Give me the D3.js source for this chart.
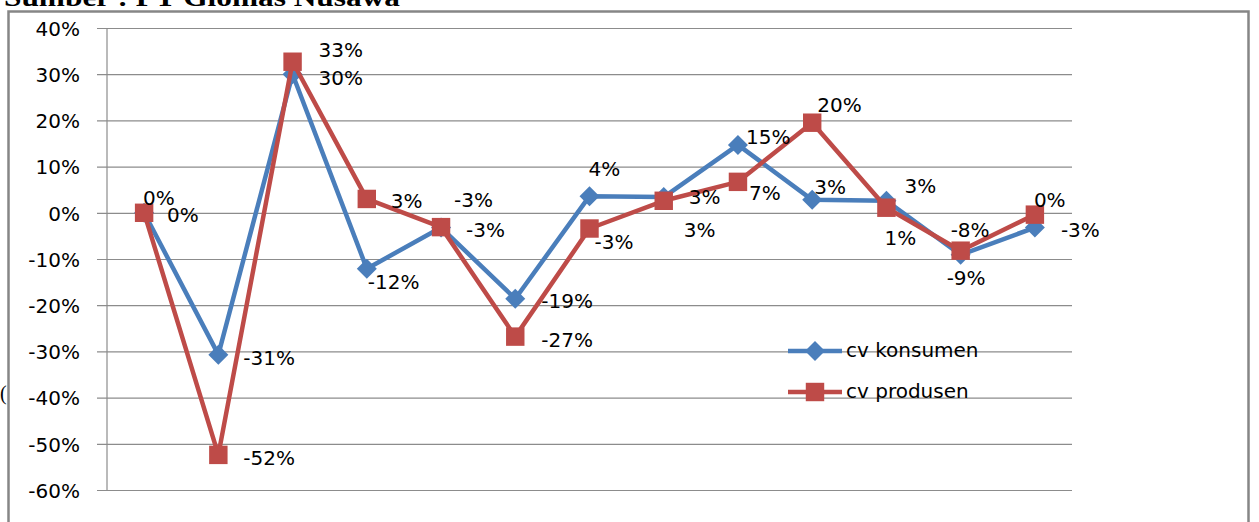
<!DOCTYPE html>
<html>
<head>
<meta charset="utf-8">
<script src="https://cdn.jsdelivr.net/npm/d3@7"></script>
<style>
html,body{margin:0;padding:0;background:#fff;overflow:hidden;}
svg{display:block;}
</style>
</head>
<body>
<svg id="chart" width="1259" height="522"></svg>
<script>
// ---- data ----
const categories = ["1","2","3","4","5","6","7","8","9","10","11","12","13"];
const konsumen = [0, -0.307, 0.300, -0.121, -0.032, -0.186, 0.036, 0.034, 0.147, 0.028, 0.026, -0.091, -0.032];
const produsen = [0, -0.524, 0.327, 0.030, -0.031, -0.268, -0.034, 0.026, 0.067, 0.195, 0.011, -0.082, -0.004];
const seriesNames = ["cv konsumen", "cv produsen"];
const tickValues = [0.4, 0.3, 0.2, 0.1, 0, -0.1, -0.2, -0.3, -0.4, -0.5, -0.6];
const sourceText = "Sumber : PT Glomas Nusawa";

// label offsets (styling) relative to each point
const konsumenLabelOffsets = [[23,2],[25,3],[26,4],[1,13],[25,2],[26,2],[-1,-27],[20,33],[8,-8],[2,-13],[18,-15],[-14,23],[26,2]];
const produsenLabelOffsets = [[-1,-15],[25,3],[26,-12],[24,2],[13,-27],[26,3],[5,13],[25,-4],[11,11],[5,-18],[-2,30],[-10,-21],[-1,-15]];

const blue = "#4a7ebb", red = "#be4b48", grid = "#8c8c8c";
const font = "DejaVu Sans, sans-serif";

const svg = d3.select("#chart");

// source text (cut at top, as in the reference)
svg.append("text").attr("x", 4).attr("y", 6)
  .attr("font-family", "Liberation Serif, serif").attr("font-weight", "bold")
  .attr("font-size", 26).attr("fill", "#000")
  .attr("textLength", 396).attr("lengthAdjust", "spacingAndGlyphs")
  .text(sourceText);
svg.append("text").attr("x", 0).attr("y", 400)
  .attr("font-family", "Liberation Serif, serif").attr("font-size", 20).attr("fill", "#000").text("(");

// outer border
svg.append("rect").attr("x", 8.5).attr("y", 11.5).attr("width", 1240).attr("height", 540)
  .attr("fill", "#fff").attr("stroke", "#868686").attr("stroke-width", 2.5);

const plotL = 107, plotR = 1072, plotT = 28, plotB = 490;
const x = d3.scaleBand().domain(categories).range([plotL, plotR]);
const cx = c => x(c) + x.bandwidth() / 2;
const y = d3.scaleLinear().domain([-0.6, 0.4]).range([plotB, plotT]);

const pct = v => { const r = Math.round(v * 100); return (r === 0 ? 0 : r) + "%"; };

// gridlines + y axis
const yAxis = d3.axisLeft(y).tickValues(tickValues).tickFormat(pct)
  .tickSize(-(plotR - plotL)).tickPadding(0);
const gy = svg.append("g").attr("transform", `translate(${plotL},0)`).call(yAxis);
gy.select(".domain").remove();
gy.selectAll(".tick line").attr("x1", -10).attr("stroke", grid).attr("stroke-width", 1.2);
gy.selectAll(".tick text").attr("x", -27).attr("dy", "0.36em")
  .attr("font-family", font).attr("font-size", 20).attr("fill", "#000");
svg.append("line").attr("x1", plotL).attr("x2", plotL).attr("y1", plotT).attr("y2", plotB)
  .attr("stroke", grid).attr("stroke-width", 1.2);

const line = d3.line().x((d, i) => cx(categories[i])).y(d => y(d));

function drawSeries(vals, color, symbol, size, rot) {
  svg.append("path").datum(vals).attr("d", line).attr("fill", "none")
    .attr("stroke", color).attr("stroke-width", 4.5).attr("stroke-linejoin", "round");
  svg.append("g").selectAll("path").data(vals).join("path")
    .attr("d", d3.symbol(symbol, size)())
    .attr("transform", (d, i) => `translate(${cx(categories[i])},${y(d)}) rotate(${rot})`)
    .attr("fill", color);
}
drawSeries(konsumen, blue, d3.symbolSquare, 200, 45);
drawSeries(produsen, red, d3.symbolSquare, 340, 0);

function drawLabels(vals, offs) {
  svg.append("g").selectAll("text").data(vals).join("text")
    .attr("x", (d, i) => cx(categories[i]) + offs[i][0])
    .attr("y", (d, i) => y(d) + offs[i][1])
    .attr("dy", "0.36em")
    .attr("font-family", font).attr("font-size", 20).attr("fill", "#000")
    .text(d => pct(d));
}
drawLabels(konsumen, konsumenLabelOffsets);
drawLabels(produsen, produsenLabelOffsets);

// legend
const legend = [
  {name: seriesNames[0], color: blue, size: 200, rot: 45, y: 351},
  {name: seriesNames[1], color: red, size: 340, rot: 0, y: 392}
];
const lg = svg.append("g");
legend.forEach(l => {
  lg.append("line").attr("x1", 788).attr("x2", 842).attr("y1", l.y).attr("y2", l.y)
    .attr("stroke", l.color).attr("stroke-width", 4.5);
  lg.append("path").attr("d", d3.symbol(d3.symbolSquare, l.size)())
    .attr("transform", `translate(815,${l.y}) rotate(${l.rot})`).attr("fill", l.color);
  lg.append("text").attr("x", 846).attr("y", l.y).attr("dy", "0.3em")
    .attr("font-family", font).attr("font-size", 20).attr("fill", "#000").text(l.name);
});
</script>
</body>
</html>
